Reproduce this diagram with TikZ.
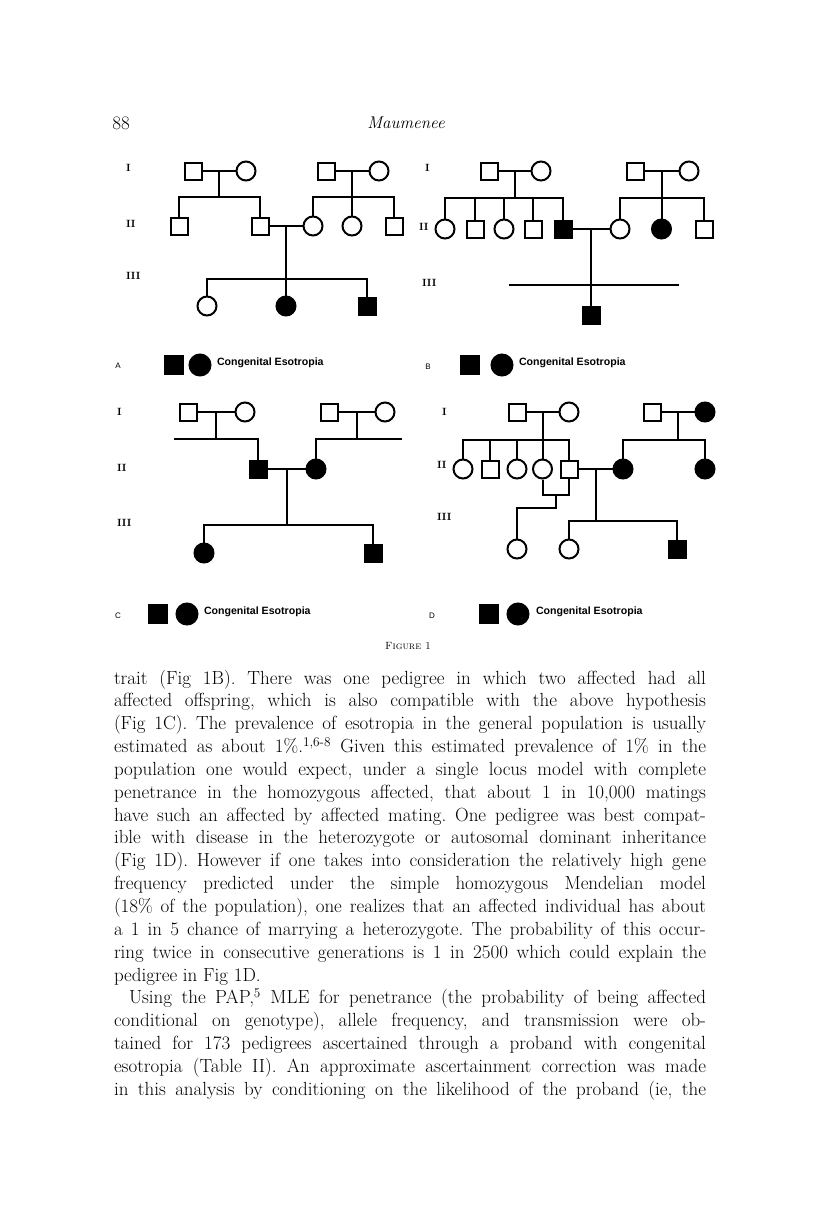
\documentclass[tikz,border=0pt]{standalone}
\usepackage{fontspec}
\newfontfamily\legendfont{Liberation Sans}
\usetikzlibrary{calc}

\newcommand{\jl}[1]{\makebox[592pt][s]{#1}}
\frenchspacing

\begin{document}
\begin{tikzpicture}[x=1pt, y=-1pt, line width=2pt,
    male/.style={draw, rectangle, minimum size=17pt, inner sep=0pt},
    female/.style={draw, circle, minimum size=19pt, inner sep=0pt},
    aff/.style={fill=black},
    gen/.style={anchor=west, inner sep=0pt, font=\fontsize{10.5}{12}\selectfont\bfseries},
    panel/.style={inner sep=0pt, font=\legendfont\fontsize{8}{10}\selectfont},
    legend/.style={anchor=west, inner sep=0pt, font=\legendfont\fontsize{10.6}{13}\selectfont\bfseries},
    textline/.style={anchor=base west, inner sep=0pt, font=\fontsize{19}{22}\selectfont}]
\useasboundingbox[fill=white] (0,0) rectangle (816,1229);

% Running head
\node[inner sep=0pt, font=\fontsize{19}{22}\selectfont] (pageno) at (121,123) {88};
\node[inner sep=0pt, font=\fontsize{17}{20}\selectfont\itshape] (head) at (406,123) {Maumenee};

% Pedigree A
\node[gen] (ga1) at (125,168) {I};
\node[gen] (ga2) at (125,224) {II};
\node[gen] (ga3) at (125,276) {III};
\coordinate (as1) at (0,197);
\coordinate (as2) at (0,279);
\node[male] (a1) at (193,171) {};
\node[female] (a2) at (246,171) {};
\node[male] (a3) at (326,171) {};
\node[female] (a4) at (379,171) {};
\draw (a1) -- coordinate (am1) (a2);
\draw (a3) -- coordinate (am2) (a4);
\node[male] (a5) at (179,226) {};
\node[male] (a6) at (260,226) {};
\node[female] (a7) at (313,226) {};
\node[female] (a8) at (am2 |- 0,226) {};
\node[male] (a9) at (394,226) {};
\draw (am1) -- (am1 |- as1);
\draw (a5.north) -- (a5.north |- as1) -- (a6.north |- as1) -- (a6.north);
\draw (am2) -- (a8);
\draw (a7.north) -- (a7.north |- as1) -- (a9.north |- as1) -- (a9.north);
\draw (a6) -- coordinate (am3) (a7);
\node[female] (a10) at (207,306) {};
\node[female, aff] (a11) at (am3 |- 0,306) {};
\node[male, aff] (a12) at (367,306) {};
\draw (am3) -- (a11);
\draw (a10.north) -- (a10.north |- as2) -- (a12.north |- as2) -- (a12.north);
% legend A
\node[panel] (la) at (118,366) {A};
\node[male, aff, minimum size=18pt] (lsa) at (174,365) {};
\node[female, aff, minimum size=21pt] (lca) at (200,365) {};
\node[legend] (lta) at (216,363) {Congenital Esotropia};

% Pedigree B
\node[gen] (gb1) at (424,168) {I};
\node[gen] (gb2) at (418,227) {II};
\node[gen] (gb3) at (421,283) {III};
\coordinate (bs1) at (0,198);
\coordinate (bs2) at (0,285);
\node[male] (b1) at (489,171) {};
\node[female] (b2) at (541,171) {};
\node[male] (b3) at (635,171) {};
\node[female] (b4) at (689,171) {};
\draw (b1) -- coordinate (bm1) (b2);
\draw (b3) -- coordinate (bm2) (b4);
\node[female] (b5) at (445,229) {};
\node[male] (b6) at (475,229) {};
\node[female] (b7) at (504,229) {};
\node[male] (b8) at (533,229) {};
\node[male, aff] (b9) at (563,229) {};
\node[female] (b10) at (620,229) {};
\node[female, aff] (b11) at (bm2 |- 0,229) {};
\node[male] (b12) at (704,229) {};
\draw (bm1) -- (bm1 |- bs1);
\draw (b5.north) -- (b5.north |- bs1) -- (b9.north |- bs1) -- (b9.north);
\foreach \k in {b6,b7,b8}
  \draw (\k.north) -- (\k.north |- bs1);
\draw (bm2) -- (b11);
\draw (b10.north) -- (b10.north |- bs1) -- (b12.north |- bs1) -- (b12.north);
\draw (b9) -- coordinate (bm3) (b10);
\coordinate (bl) at (509,285);
\coordinate (br) at (679,285);
\draw (bl) -- (br);
\node[male, aff] (b13) at (bm3 |- 0,315) {};
\draw (bm3) -- (b13);
% legend B
\node[panel] (lb) at (428,367) {B};
\node[male, aff, minimum size=18pt] (lsb) at (470,365) {};
\node[female, aff, minimum size=21pt] (lcb) at (502,365) {};
\node[legend] (ltb) at (518,363) {Congenital Esotropia};

% Pedigree C
\node[gen] (gc1) at (116,412) {I};
\node[gen] (gc2) at (116,468) {II};
\node[gen] (gc3) at (116,523) {III};
\coordinate (cs1) at (0,439);
\coordinate (cs2) at (0,525);
\node[male] (c1) at (188,412) {};
\node[female] (c2) at (245,412) {};
\node[male] (c3) at (329,412) {};
\node[female] (c4) at (385,412) {};
\draw (c1) -- coordinate (cm1) (c2);
\draw (c3) -- coordinate (cm2) (c4);
\node[male, aff] (c5) at (258,469) {};
\node[female, aff] (c6) at (316,469) {};
\coordinate (cl) at (174,439);
\coordinate (cr) at (402,439);
\draw (cm1) -- (cm1 |- cs1);
\draw (cl) -- (c5.north |- cs1) -- (c5.north);
\draw (cm2) -- (cm2 |- cs1);
\draw (c6.north) -- (c6.north |- cs1) -- (cr);
\draw (c5) -- coordinate (cm3) (c6);
\node[female, aff] (c7) at (204,553) {};
\node[male, aff] (c8) at (373,553) {};
\draw (cm3) -- (cm3 |- cs2);
\draw (c7.north) -- (c7.north |- cs2) -- (c8.north |- cs2) -- (c8.north);
% legend C
\node[panel] (lc) at (118,616) {C};
\node[male, aff, minimum size=18pt] (lsc) at (158,614) {};
\node[female, aff, minimum size=21pt] (lcc) at (187,614) {};
\node[legend] (ltc) at (203,612) {Congenital Esotropia};

% Pedigree D
\node[gen] (gd1) at (441,412) {I};
\node[gen] (gd2) at (436,465) {II};
\node[gen] (gd3) at (436,517) {III};
\coordinate (ds1) at (0,440);
\coordinate (ds2) at (0,521);
\node[male] (d1) at (517,412) {};
\node[female] (d2) at (569,412) {};
\node[male] (d3) at (652,412) {};
\node[female, aff] (d4) at (705,412) {};
\draw (d1) -- coordinate (dm1) (d2);
\draw (d3) -- coordinate (dm2) (d4);
\node[female] (d5) at (463,469) {};
\node[male] (d6) at (490,469) {};
\node[female] (d7) at (517,469) {};
\node[female] (d8) at (dm1 |- 0,469) {};
\node[male] (d9) at (569,469) {};
\node[female, aff] (d10) at (623,469) {};
\node[female, aff] (d11) at (705,469) {};
\draw (dm1) -- (d8);
\draw (d5.north) -- (d5.north |- ds1) -- (d9.north |- ds1) -- (d9.north);
\foreach \k in {d6,d7}
  \draw (\k.north) -- (\k.north |- ds1);
\draw (dm2) -- (dm2 |- ds1);
\draw (d10.north) -- (d10.north |- ds1) -- (d11.north |- ds1) -- (d11.north);
\draw (d9) -- coordinate (dm3) (d10);
\node[female] (d12) at (569,549) {};
\node[male, aff] (d13) at (677,549) {};
\draw (dm3) -- (dm3 |- ds2);
\draw (d12.north) -- (d12.north |- ds2) -- (d13.north |- ds2) -- (d13.north);
% second mating of II-5, drawn below
\coordinate (dl1) at (0,495);
\coordinate (dl2) at (0,508);
\draw (d8.south) -- (d8.south |- dl1) -- coordinate (dm4) (d9.south |- dl1) -- (d9.south);
\node[female] (d14) at (517,549) {};
\draw (dm4) -- (dm4 |- dl2) -| (d14.north);
% legend D
\node[panel] (ld) at (432,616) {D};
\node[male, aff, minimum size=18pt] (lsd) at (489,614) {};
\node[female, aff, minimum size=21pt] (lcd) at (518,614) {};
\node[legend] (ltd) at (535,612) {Congenital Esotropia};

% Caption
\node[inner sep=0pt, font=\fontsize{10.5}{12}\selectfont] (cap) at (408,646) {\textsc{Figure 1}};

% Running text
\node[textline] (t1) at (113,684) {\jl{trait (Fig 1B). There was one pedigree in which two affected had all}};
\node[textline] (t2) at (113,706.85) {\jl{affected offspring, which is also compatible with the above hypothesis}};
\node[textline] (t3) at (113,729.7) {\jl{(Fig 1C). The prevalence of esotropia in the general population is usually}};
\node[textline] (t4) at (113,752.55) {\jl{estimated as about 1\%.\textsuperscript{1,6-8} Given this estimated prevalence of 1\% in the}};
\node[textline] (t5) at (113,775.4) {\jl{population one would expect, under a single locus model with complete}};
\node[textline] (t6) at (113,798.25) {\jl{penetrance in the homozygous affected, that about 1 in 10,000 matings}};
\node[textline] (t7) at (113,821.1) {\jl{have such an affected by affected mating. One pedigree was best compat-}};
\node[textline] (t8) at (113,843.95) {\jl{ible with disease in the heterozygote or autosomal dominant inheritance}};
\node[textline] (t9) at (113,866.8) {\jl{(Fig 1D). However if one takes into consideration the relatively high gene}};
\node[textline] (t10) at (113,889.65) {\jl{frequency predicted under the simple homozygous Mendelian model}};
\node[textline] (t11) at (113,912.5) {\jl{(18\% of the population), one realizes that an affected individual has about}};
\node[textline] (t12) at (113,935.35) {\jl{a 1 in 5 chance of marrying a heterozygote. The probability of this occur-}};
\node[textline] (t13) at (113,958.2) {\jl{ring twice in consecutive generations is 1 in 2500 which could explain the}};
\node[textline] (t14) at (113,981.05) {pedigree in Fig 1D.};
\node[textline] (t15) at (128,1003.9) {\makebox[577pt][s]{Using the PAP,\textsuperscript{5} MLE for penetrance (the probability of being affected}};
\node[textline] (t16) at (113,1026.75) {\jl{conditional on genotype), allele frequency, and transmission were ob-}};
\node[textline] (t17) at (113,1049.6) {\jl{tained for 173 pedigrees ascertained through a proband with congenital}};
\node[textline] (t18) at (113,1072.45) {\jl{esotropia (Table II). An approximate ascertainment correction was made}};
\node[textline] (t19) at (113,1095.3) {\jl{in this analysis by conditioning on the likelihood of the proband (ie, the}};
\end{tikzpicture}
\end{document}
